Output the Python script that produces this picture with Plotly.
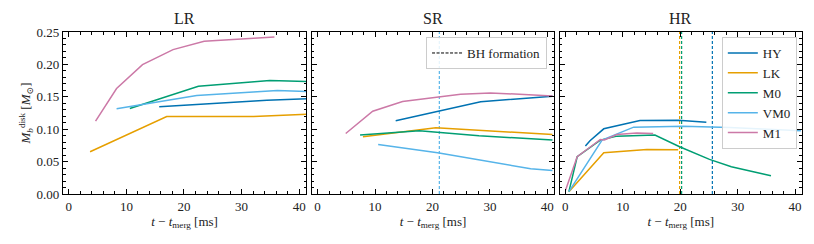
import plotly.graph_objects as go
from plotly.subplots import make_subplots

# ---- data ----
models = ["HY", "LK", "M0", "VM0", "M1"]
colors = {"HY": "#0072B2", "LK": "#E69F00", "M0": "#009E73", "VM0": "#56B4E9", "M1": "#CC79A7"}
panels = ["LR", "SR", "HR"]

# LR
lr_HY_t = [15.7, 34.4, 41.3]
lr_HY_m = [0.1345, 0.1448, 0.1468]
lr_LK_t = [3.7, 17.0, 32.1, 41.3]
lr_LK_m = [0.0652, 0.1196, 0.1196, 0.1232]
lr_M0_t = [10.6, 22.5, 34.9, 41.3]
lr_M0_m = [0.132, 0.1663, 0.175, 0.1735]
lr_VM0_t = [8.3, 22.2, 36.2, 41.3]
lr_VM0_m = [0.1314, 0.152, 0.1597, 0.158]
lr_M1_t = [4.65, 8.3, 12.8, 18.1, 23.5, 35.7]
lr_M1_m = [0.1124, 0.1627, 0.1997, 0.2228, 0.2356, 0.2423]

# SR
sr_HY_t = [13.6, 21.4, 28.4, 40.9]
sr_HY_m = [0.1129, 0.1278, 0.1422, 0.151]
sr_LK_t = [7.9, 20.6, 40.9]
sr_LK_m = [0.0883, 0.1022, 0.0919]
sr_M0_t = [7.4, 17.7, 28.1, 40.9]
sr_M0_m = [0.0909, 0.0975, 0.0898, 0.0832]
sr_VM0_t = [10.55, 20.9, 37.1, 40.9]
sr_VM0_m = [0.0765, 0.0637, 0.039, 0.0364]
sr_M1_t = [4.9, 9.6, 14.8, 21.2, 24.9, 30.1, 40.9]
sr_M1_m = [0.0934, 0.1278, 0.1427, 0.1499, 0.154, 0.156, 0.1514]

# HR
hr_HY_t = [3.5, 3.9, 4.3, 6.7, 13.0, 19.65, 24.55]
hr_HY_m = [0.0739, 0.079, 0.0821, 0.1006, 0.1134, 0.114, 0.1109]
hr_LK_t = [0.63, 6.7, 14.2, 19.65]
hr_LK_m = [0.0036, 0.0637, 0.0688, 0.0683]
hr_M0_t = [0.63, 2.07, 6.1, 9.0, 15.6, 19.9, 25.1, 28.9, 35.8]
hr_M0_m = [0.0036, 0.0575, 0.0832, 0.0893, 0.0909, 0.0729, 0.0534, 0.0421, 0.0282]
hr_VM0_t = [0.63, 6.4, 11.9, 20.5, 28.6, 41.0]
hr_VM0_m = [0.0036, 0.0832, 0.1032, 0.1047, 0.1027, 0.0975]
hr_M1_t = [0.06, 2.07, 4.4, 6.1, 6.8, 9.0, 12.45, 15.3]
hr_M1_m = [0.0062, 0.0575, 0.0729, 0.0842, 0.0835, 0.0919, 0.094, 0.0934]

# BH formation times
sr_bh_models = ["VM0"]
sr_bh_t = [21.2]
hr_bh_models = ["LK", "M0", "HY"]
hr_bh_t = [19.9, 20.25, 25.6]

data = {
    "LR": {"HY": (lr_HY_t, lr_HY_m), "LK": (lr_LK_t, lr_LK_m), "M0": (lr_M0_t, lr_M0_m),
           "VM0": (lr_VM0_t, lr_VM0_m), "M1": (lr_M1_t, lr_M1_m)},
    "SR": {"HY": (sr_HY_t, sr_HY_m), "LK": (sr_LK_t, sr_LK_m), "M0": (sr_M0_t, sr_M0_m),
           "VM0": (sr_VM0_t, sr_VM0_m), "M1": (sr_M1_t, sr_M1_m)},
    "HR": {"HY": (hr_HY_t, hr_HY_m), "LK": (hr_LK_t, hr_LK_m), "M0": (hr_M0_t, hr_M0_m),
           "VM0": (hr_VM0_t, hr_VM0_m), "M1": (hr_M1_t, hr_M1_m)},
}
bh = {"SR": (sr_bh_models, sr_bh_t), "HR": (hr_bh_models, hr_bh_t)}

FONT = "'Liberation Serif', 'Times New Roman', 'DejaVu Serif', serif"

fig = make_subplots(rows=1, cols=3, shared_yaxes=True, horizontal_spacing=0.007)

for i, p in enumerate(panels):
    col = i + 1
    if p in bh:
        for m, tb in zip(*bh[p]):
            fig.add_trace(go.Scatter(x=[tb, tb], y=[0, 0.25], mode="lines",
                                     line=dict(color=colors[m], width=1.2, dash="3px,2px"),
                                     showlegend=False, hoverinfo="skip"),
                          row=1, col=col)
    for m in models:
        t, v = data[p][m]
        fig.add_trace(go.Scatter(x=t, y=v, mode="lines", name=m,
                                 line=dict(color=colors[m], width=1.5),
                                 showlegend=(p == "HR"), legend="legend"),
                      row=1, col=col)

# legend entry for BH formation
fig.add_trace(go.Scatter(x=[None], y=[None], mode="lines", name="BH formation",
                         line=dict(color="black", width=1, dash="3px,1.5px"),
                         legend="legend2"), row=1, col=2)

domains = [[0.0, 0.329], [0.3367, 0.6647], [0.6719, 1.0]]
axis_common = dict(showline=True, linecolor="black", linewidth=1.2, mirror="allticks",
                   ticks="inside", ticklen=5, tickwidth=1, tickcolor="black",
                   showgrid=False, zeroline=False, automargin=False,
                   tickfont=dict(family=FONT, size=13, color="#222"))
for i in range(3):
    xa = "xaxis" if i == 0 else f"xaxis{i+1}"
    ya = "yaxis" if i == 0 else f"yaxis{i+1}"
    fig.layout[xa].update(domain=domains[i], range=[-1.0, 41.2], dtick=10, tick0=0,
                          minor=dict(ticks="inside", ticklen=2.5, dtick=2, tickcolor="black"),
                          title=dict(text="<i>t</i> − <i>t</i><sub>merg</sub> [ms]",
                                     font=dict(family=FONT, size=13, color="#222"),
                                     standoff=2),
                          **axis_common)
    fig.layout[ya].update(range=[0, 0.25], dtick=0.05, tick0=0, tickformat=".2f",
                          minor=dict(ticks="inside", ticklen=2.5, dtick=0.01, tickcolor="black"),
                          showticklabels=(i == 0), **axis_common)

fig.layout.yaxis.title = dict(text="<i>M</i><sub><i>b</i></sub><sup>disk</sup> [<i>M</i><sub>⊙</sub>]",
                              font=dict(family=FONT, size=13, color="#222"), standoff=2)

for i, p in enumerate(panels):
    fig.add_annotation(text=p, x=sum(domains[i]) / 2, y=1.0, xref="paper", yref="paper",
                       xanchor="center", yanchor="bottom", yshift=3, showarrow=False,
                       font=dict(family=FONT, size=16, color="#222"))

fig.update_layout(
    width=814, height=244,
    margin=dict(l=63, r=12, t=32, b=50, autoexpand=False),
    plot_bgcolor="white", paper_bgcolor="white",
    font=dict(family=FONT, size=13, color="#222"),
    legend=dict(x=0.993, y=0.969, xanchor="right", yanchor="top",
                bgcolor="rgba(255,255,255,0.85)", bordercolor="#cccccc", borderwidth=1,
                font=dict(family=FONT, size=13), tracegroupgap=0, itemwidth=30),
    legend2=dict(x=0.655, y=0.969, xanchor="right", yanchor="top",
                 bgcolor="rgba(255,255,255,0.85)", bordercolor="#cccccc", borderwidth=1,
                 font=dict(family=FONT, size=13), itemwidth=30),
    showlegend=True,
)

fig.write_html("out.html", config={"displayModeBar": False},
               post_script="document.body.style.margin='0px';document.body.style.padding='0px';")
